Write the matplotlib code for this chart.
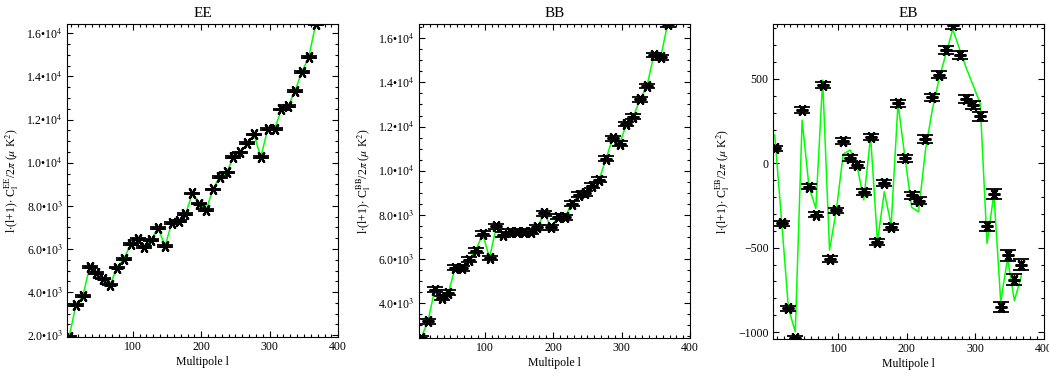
import numpy as np
import matplotlib
matplotlib.use('Agg')
import matplotlib.pyplot as plt
from matplotlib.ticker import MultipleLocator, FuncFormatter

plt.rcParams['font.family'] = ['Liberation Serif', 'DejaVu Serif']
plt.rcParams['mathtext.fontset'] = 'stix'

# multipole bin centres
ell = [7, 17, 27, 37, 47, 57, 67, 77, 87, 97, 107, 117, 127, 137, 147, 157, 167, 177, 187,
       197, 207, 217, 227, 237, 247, 257, 267, 277, 287, 297, 307, 317, 327, 337, 347, 357, 367]

ee = [1920, 3390, 3810, 5170, 4890, 4630, 4350, 5140, 5540, 6220, 6470, 6100, 6410, 6980,
      6140, 7210, 7300, 7610, 8580, 8110, 7800, 8760, 9350, 9550, 10270, 10480, 10900,
      11310, 10270, 11550, 11550, 12470, 12630, 13340, 14220, 14890, 16420]
ee_err = [40] * 37

bb = [2425, 3180, 4610, 4240, 4490, 5620, 5590, 5970, 6390, 7150, 6050, 7480, 7100, 7250,
      7220, 7220, 7250, 7450, 8080, 7450, 7930, 7900, 8500, 8910, 8990, 9320, 9590,
      10540, 11480, 11220, 12120, 12450, 13240, 13840, 15240, 15140, 16630]
bb_err = [110] * 37

eb = [89, -356, -860, -1037, 316, -139, -305, 464, -567, -279, 134, 31, -12, -170, 158,
      -467, -115, -378, 356, 30, -190, -222, 144, 391, 525, 672, 820, 640, 381, 346, 280,
      -374, -182, -850, -545, -690, -601]
eb_err = [14, 14, 14, 14, 15, 15, 15, 16, 16, 16, 17, 17, 17, 18, 18, 18, 19, 19, 20, 20,
          20, 21, 21, 22, 22, 23, 23, 24, 25, 26, 27, 28, 29, 30, 31, 32, 33]
eb_model = [168, -340, -860, -998, 256, -140, -267, 494, -514, -277, 55, 79, -10, -217, 158,
            -464, -168, -366, 356, 40, -261, -287, 75, 316, 500, 650, 794, 676, 562, 459, 355,
            -474, -180, -820, -563, -814, -668]

panels = [
    ('EE', ee, ee_err, ee, (1920, 16420), 2000, 500, 'sci', 0.1085),
    ('BB', bb, bb_err, bb, (2425, 16630), 2000, 500, 'sci', 0.1055),
    ('EB', eb, eb_err, eb_model, (-1041, 824), 500, 100, 'plain', 0.1032),
]
lefts = [0.0639, 0.3994, 0.7366]


def sci_fmt(v, pos):
    if v <= 0:
        return ''
    e = int(np.floor(np.log10(v)))
    m = v / 10 ** e
    return f'{m:.1f}•10$^{{{e}}}$'


fig = plt.figure(figsize=(10.49, 3.78), dpi=100)
for left, (name, pts, err, line, ylim, major, minor, fmt, bottom) in zip(lefts, panels):
    ax = fig.add_axes([left, bottom, 0.2585, 0.9357 - bottom])
    ax.plot(ell, line, color='#00ff00', lw=1.1, zorder=2)
    ax.errorbar(ell, pts, yerr=err, fmt='none', ecolor='black', elinewidth=1.0,
                capsize=5.5, capthick=1.3, zorder=3)
    ax.plot(ell, pts, ls='none', marker=(6, 2, 90), ms=8.5, mew=1.6, color='black', zorder=4)
    ax.set_xlim(4, 400)
    ax.set_ylim(*ylim)
    ax.set_title(name, fontsize=11, pad=5)
    ax.set_xlabel('Multipole l', fontsize=8.5, labelpad=2)
    ax.set_ylabel(r'l$\cdot$(l+1)$\cdot$ C$_\mathrm{l}^\mathrm{' + name + r'}$/2$\pi$ ($\mu$ K$^2$)',
                  fontsize=8.5, labelpad=4)
    ax.xaxis.set_major_locator(MultipleLocator(100))
    ax.xaxis.set_minor_locator(MultipleLocator(10))
    ax.yaxis.set_major_locator(MultipleLocator(major))
    ax.yaxis.set_minor_locator(MultipleLocator(minor))
    if fmt == 'sci':
        ax.yaxis.set_major_formatter(FuncFormatter(sci_fmt))
    ax.tick_params(which='both', direction='in', top=True, right=True, labelsize=8.5, width=0.8)
    ax.tick_params(which='major', length=4.5, pad=3)
    ax.tick_params(which='minor', length=2.2)
    for s in ax.spines.values():
        s.set_linewidth(0.8)

fig.savefig('out.png', dpi=100)
